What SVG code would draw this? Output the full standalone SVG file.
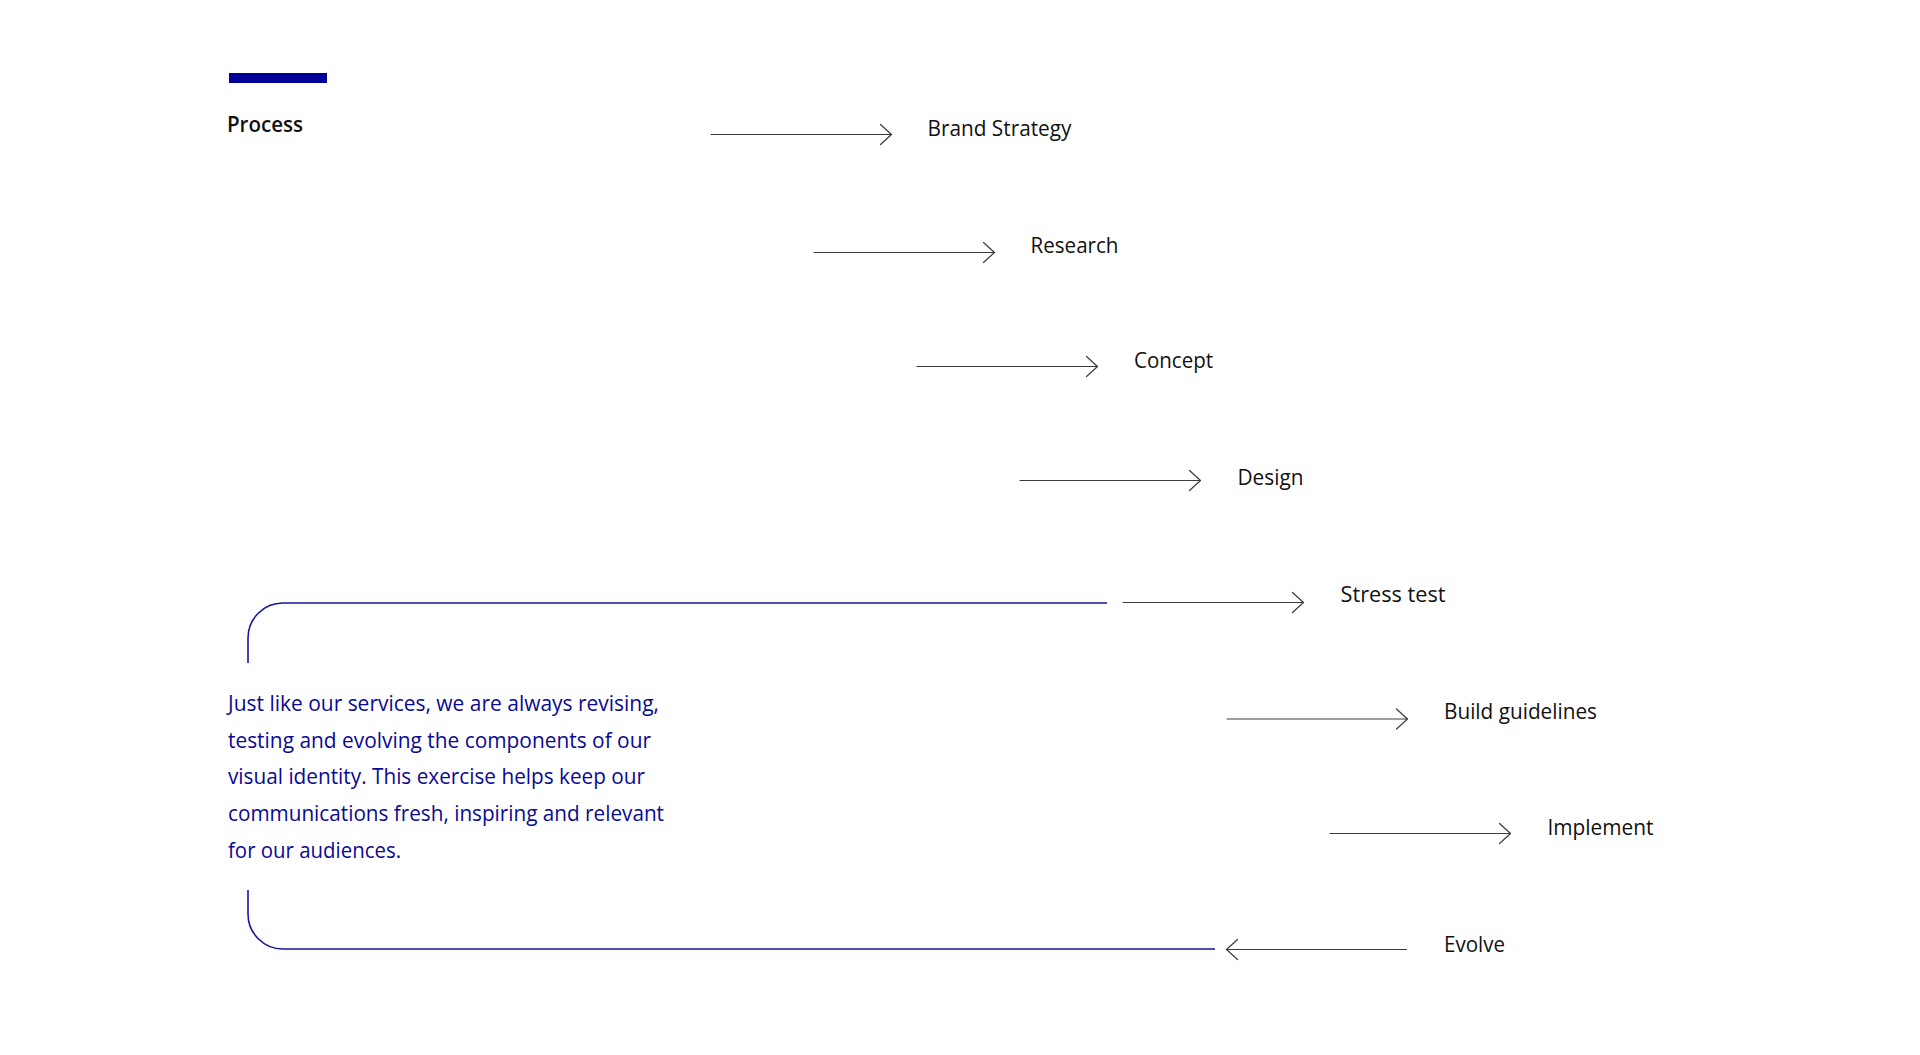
<svg xmlns="http://www.w3.org/2000/svg" width="1920" height="1055" viewBox="0 0 1920 1055">
<style>
  .lbl { font-family: "Open Sans", "Liberation Sans", sans-serif; font-size: 22px; fill: #111111; }
  .title { font-family: "Open Sans", "Liberation Sans", sans-serif; font-size: 22px; font-weight: 600; fill: #111111; }
  .para { font-family: "Open Sans", "Liberation Sans", sans-serif; font-size: 21px; fill: #0a0a92; }
  .arr { fill: none; stroke: #3c3c3c; stroke-width: 1.2; stroke-linecap: round; stroke-linejoin: round; }
  .blue { fill: none; stroke: #1414a0; stroke-width: 1.6; }
</style>
<rect width="1920" height="1055" fill="#ffffff"/>

<g id="header">
  <rect x="229" y="73" width="98" height="10" fill="#000099"/>
  <text class="title" x="227" y="132" textLength="76" lengthAdjust="spacingAndGlyphs">Process</text>
</g>

<g id="connectors">
  <path class="arr" d="M711 134.5 H891.5 M880.5 124.5 L891.5 134.5 L880.5 144.5"/>
  <path class="arr" d="M814 252.5 H994.5 M983.5 242.5 L994.5 252.5 L983.5 262.5"/>
  <path class="arr" d="M917 366.5 H1097.5 M1086.5 356.5 L1097.5 366.5 L1086.5 376.5"/>
  <path class="arr" d="M1020 480.5 H1200.5 M1189.5 470.5 L1200.5 480.5 L1189.5 490.5"/>
  <path class="arr" d="M1123 602.5 H1303.5 M1292.5 592.5 L1303.5 602.5 L1292.5 612.5"/>
  <path class="arr" d="M1227 719 H1407.5 M1396.5 709 L1407.5 719 L1396.5 729"/>
  <path class="arr" d="M1330 833.5 H1510.5 M1499.5 823.5 L1510.5 833.5 L1499.5 843.5"/>
  <path class="arr" d="M1406.5 949.5 H1226.5 M1237.5 939.5 L1226.5 949.5 L1237.5 959.5"/>
  <path class="blue" d="M248 663 V638 A35 35 0 0 1 283 603 H1107"/>
  <path class="blue" d="M248 890 V914 A35 35 0 0 0 283 949 H1215"/>
</g>

<g id="brand-strategy"><text class="lbl" x="927.5" y="135.5" textLength="144" lengthAdjust="spacingAndGlyphs">Brand Strategy</text></g>
<g id="research"><text class="lbl" x="1030.5" y="252.5" textLength="88" lengthAdjust="spacingAndGlyphs">Research</text></g>
<g id="concept"><text class="lbl" x="1134" y="368" textLength="79" lengthAdjust="spacingAndGlyphs">Concept</text></g>
<g id="design"><text class="lbl" x="1237.5" y="485" textLength="66" lengthAdjust="spacingAndGlyphs">Design</text></g>
<g id="stress-test"><text class="lbl" x="1340.5" y="602" textLength="105" lengthAdjust="spacingAndGlyphs">Stress test</text></g>
<g id="build-guidelines"><text class="lbl" x="1444" y="718.5" textLength="153" lengthAdjust="spacingAndGlyphs">Build guidelines</text></g>
<g id="implement"><text class="lbl" x="1547.5" y="835" textLength="106" lengthAdjust="spacingAndGlyphs">Implement</text></g>
<g id="evolve"><text class="lbl" x="1444" y="951.7" textLength="61" lengthAdjust="spacingAndGlyphs">Evolve</text></g>

<g id="description">
  <text class="para" x="228" y="711" textLength="431" lengthAdjust="spacingAndGlyphs">Just like our services, we are always revising,</text>
  <text class="para" x="228" y="747.7" textLength="423" lengthAdjust="spacingAndGlyphs">testing and evolving the components of our</text>
  <text class="para" x="228" y="784.4" textLength="417" lengthAdjust="spacingAndGlyphs">visual identity. This exercise helps keep our</text>
  <text class="para" x="228" y="821.1" textLength="436" lengthAdjust="spacingAndGlyphs">communications fresh, inspiring and relevant</text>
  <text class="para" x="228" y="857.8" textLength="173" lengthAdjust="spacingAndGlyphs">for our audiences.</text>
</g>
</svg>
